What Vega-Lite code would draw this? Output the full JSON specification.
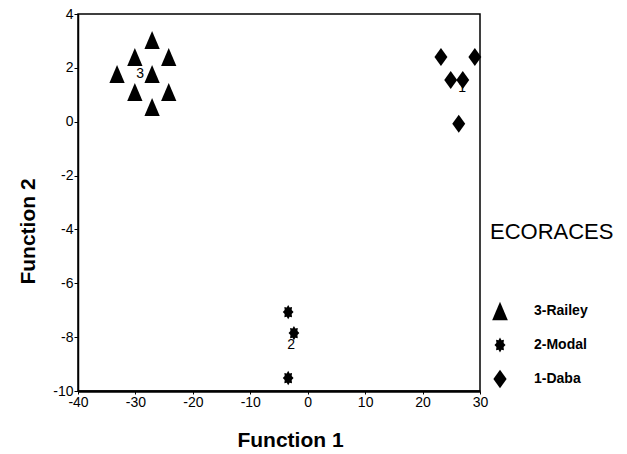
{
  "$schema": "https://vega.github.io/schema/vega-lite/v6.json",
  "width": 402,
  "height": 377,
  "autosize": "none",
  "padding": {"left": 78, "top": 14, "right": 147, "bottom": 63},
  "background": "white",
  "config": {
    "font": "Liberation Sans",
    "view": {"stroke": "black", "strokeWidth": 1.5},
    "axis": {"grid": false, "domainColor": "black", "tickColor": "black", "labelColor": "black", "titleColor": "black", "labelFont": "Liberation Sans", "titleFont": "Liberation Sans"}
  },
  "datasets": {
    "points": [
      {"f1": -27.1, "f2": 3.03, "eco": "3-Railey"},
      {"f1": -30.1, "f2": 2.4, "eco": "3-Railey"},
      {"f1": -24.2, "f2": 2.4, "eco": "3-Railey"},
      {"f1": -33.2, "f2": 1.77, "eco": "3-Railey"},
      {"f1": -27.1, "f2": 1.77, "eco": "3-Railey"},
      {"f1": -30.1, "f2": 1.1, "eco": "3-Railey"},
      {"f1": -24.2, "f2": 1.1, "eco": "3-Railey"},
      {"f1": -27.1, "f2": 0.55, "eco": "3-Railey"},
      {"f1": -3.4, "f2": -7.07, "eco": "2-Modal"},
      {"f1": -2.4, "f2": -7.85, "eco": "2-Modal"},
      {"f1": -3.4, "f2": -9.52, "eco": "2-Modal"},
      {"f1": 23.2, "f2": 2.4, "eco": "1-Daba"},
      {"f1": 29.1, "f2": 2.4, "eco": "1-Daba"},
      {"f1": 24.9, "f2": 1.55, "eco": "1-Daba"},
      {"f1": 27.0, "f2": 1.55, "eco": "1-Daba"},
      {"f1": 26.3, "f2": -0.08, "eco": "1-Daba"}
    ],
    "centroids": [
      {"f1": -29.2, "f2": 1.77, "label": "3"},
      {"f1": -2.9, "f2": -8.3, "label": "2"},
      {"f1": 26.9, "f2": 1.25, "label": "1"}
    ]
  },
  "layer": [
    {
      "data": {"name": "points"},
      "mark": {"type": "point", "filled": true, "color": "black", "opacity": 1, "size": 324},
      "encoding": {
        "x": {
          "field": "f1", "type": "quantitative",
          "scale": {"domain": [-40, 30], "nice": false, "zero": false},
          "axis": {"title": "Function 1", "values": [-40, -30, -20, -10, 0, 10, 20, 30], "labelExpr": "replace(datum.label, '−', '-')", "labelFontSize": 14, "labelPadding": 1, "tickSize": 3, "domainWidth": 2.5, "titleFontSize": 21, "titleFontWeight": "bold", "titleX": 212, "titleY": 49, "titleBaseline": "middle", "titleAnchor": null, "labelFlush": false}
        },
        "y": {
          "field": "f2", "type": "quantitative",
          "scale": {"domain": [-10, 4], "nice": false, "zero": false},
          "axis": {"title": "Function 2", "values": [-10, -8, -6, -4, -2, 0, 2, 4], "labelExpr": "replace(datum.label, '−', '-')", "labelFontSize": 14, "labelPadding": 1, "tickSize": 4, "domainWidth": 1.5, "titleFontSize": 21, "titleFontWeight": "bold", "titleX": -50, "titleY": 217, "titleAngle": -90, "titleAlign": "center", "titleBaseline": "middle", "titleAnchor": null, "labelFlush": false}
        },
        "shape": {
          "field": "eco", "type": "nominal",
          "scale": {
            "domain": ["3-Railey", "2-Modal", "1-Daba"],
            "range": [
              "M0,-1L0.85,1L-0.85,1Z",
              "M0.6,0L0.39,0.22L0.424,0.566L0.16,0.52L0,0.8L-0.16,0.52L-0.424,0.566L-0.39,0.22L-0.6,0L-0.39,-0.22L-0.424,-0.566L-0.16,-0.52L0,-0.8L0.16,-0.52L0.424,-0.566L0.39,-0.22Z",
              "M0,-1L0.72,0L0,1L-0.72,0Z"
            ]
          },
          "legend": {
            "title": "ECORACES",
            "orient": "none",
            "legendX": 412,
            "legendY": 208,
            "titleFontSize": 22,
            "titleFontWeight": "normal",
            "titleColor": "black",
            "titleBaseline": "top",
            "titlePadding": 57,
            "symbolSize": 340,
            "symbolFillColor": "black",
            "symbolStrokeColor": "black",
            "symbolOpacity": 1,
            "labelFontSize": 14,
            "labelFontWeight": "bold",
            "labelColor": "black",
            "labelOffset": 24,
            "rowPadding": 10
          }
        }
      }
    },
    {
      "data": {"name": "centroids"},
      "mark": {"type": "text", "fontSize": 14, "color": "black", "font": "Liberation Sans"},
      "encoding": {
        "x": {"field": "f1", "type": "quantitative"},
        "y": {"field": "f2", "type": "quantitative"},
        "text": {"field": "label"}
      }
    }
  ]
}
